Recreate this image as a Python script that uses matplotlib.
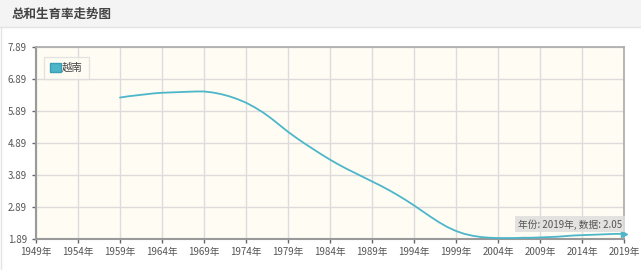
import matplotlib
matplotlib.use('Agg')
import matplotlib.pyplot as plt
from matplotlib.patches import Rectangle

plt.rcParams['font.family'] = ['Noto Sans CJK SC', 'DejaVu Sans']

# 越南 总和生育率
years = list(range(1959, 2020))
tfr = [6.31, 6.35, 6.38, 6.41, 6.44, 6.46, 6.47, 6.48, 6.49, 6.50,
       6.50, 6.47, 6.42, 6.35, 6.26, 6.15, 6.01, 5.85, 5.66, 5.45,
       5.24, 5.05, 4.87, 4.70, 4.53, 4.37, 4.22, 4.08, 3.95, 3.82,
       3.69, 3.56, 3.42, 3.27, 3.11, 2.94, 2.76, 2.58, 2.41, 2.26,
       2.14, 2.05, 1.99, 1.95, 1.93, 1.92, 1.92, 1.92, 1.93, 1.93,
       1.94, 1.95, 1.96, 1.98, 2.00, 2.01, 2.02, 2.03, 2.04, 2.05,
       2.05]
yticks = [1.89, 2.89, 3.89, 4.89, 5.89, 6.89, 7.89]
xticks = list(range(1949, 2020, 5))
xlabels = [str(y) + '年' for y in xticks]
title = '总和生育率走势图'
series_name = '越南'
tip_text = '年份: 2019年, 数据: 2.05'

line_color = '#4db6c9'

fig = plt.figure(figsize=(6.41, 2.70), dpi=100)
fig.patch.set_facecolor('white')

# 标题栏
fig.patches.append(Rectangle((0, 243 / 270), 1, 27 / 270, transform=fig.transFigure,
                             facecolor='#f4f4f4', edgecolor='none', zorder=0))
fig.lines.append(plt.Line2D([0, 1], [243 / 270, 243 / 270], transform=fig.transFigure,
                            color='#e4e4e4', lw=1))
fig.lines.append(plt.Line2D([0.5 / 641, 0.5 / 641], [0, 243 / 270], transform=fig.transFigure,
                            color='#e4e4e4', lw=1))
fig.text(12 / 641, 256 / 270, title, fontsize=9, color='#444444',
         fontweight='bold', va='center', ha='left')

ax = fig.add_axes([36 / 641, 31 / 270, 588 / 641, 192 / 270])
ax.set_facecolor('#fffcf4')
ax.plot(years, tfr, color=line_color, lw=1.3, solid_capstyle='round', zorder=3)
ax.plot([years[-1]], [tfr[-1]], marker='>', color=line_color, ms=5, clip_on=False, zorder=4)

ax.set_xlim(1949, 2019)
ax.set_ylim(1.89, 7.89)
ax.set_xticks(xticks)
ax.set_xticklabels(xlabels)
ax.set_yticks(yticks)
ax.set_yticklabels(['%.2f' % v for v in yticks])
ax.grid(True, color='#dcdcdc', lw=1)
ax.set_axisbelow(True)
ax.tick_params(axis='both', labelsize=7, colors='#666666', length=3, width=1)
ax.tick_params(axis='x', pad=3)
for lbl in ax.get_xticklabels() + ax.get_yticklabels():
    lbl.set_color('#555555')
for side in ['left', 'bottom']:
    ax.spines[side].set_color('#9a9a9a')
    ax.spines[side].set_linewidth(1.5)
for side in ['top', 'right']:
    ax.spines[side].set_color('#aaaaaa')
    ax.spines[side].set_linewidth(1.2)

leg = ax.legend([Rectangle((0, 0), 1, 1, facecolor=line_color, edgecolor='#3a9fb2')],
                [series_name], loc='upper left', bbox_to_anchor=(0.01, 0.96),
                fontsize=7.5, frameon=True, fancybox=False, handlelength=1.0,
                handleheight=1.0, handletextpad=0.1, borderpad=0.6, borderaxespad=0.2)
leg.get_frame().set_edgecolor('#dddddd')
leg.get_frame().set_facecolor('#fffcf4')
leg.get_frame().set_linewidth(1)
for t in leg.get_texts():
    t.set_color('#444444')

ax.text(2019 - 0.25, 2.05 + 0.3, tip_text, fontsize=7, color='#555555',
        ha='right', va='center', zorder=5,
        bbox=dict(boxstyle='square,pad=0.3', facecolor='#dedede', edgecolor='none', alpha=0.85))

fig.savefig('out.png', dpi=100)
